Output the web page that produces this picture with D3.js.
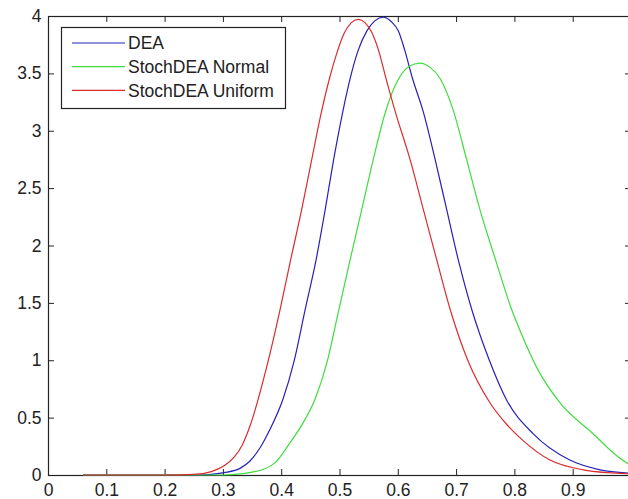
<!DOCTYPE html>
<html>
<head>
<meta charset="utf-8">
<script src="https://cdn.jsdelivr.net/npm/d3@7"></script>
<style>
	html, body { margin: 0; padding: 0; background: #fff; overflow: hidden; }
	svg text { font-family: "Liberation Sans", Arial, sans-serif; fill: #222; }
</style>
</head>
<body>
<svg id="chart"></svg>
<script>
const WIDTH = 628,
	HEIGHT = 499,
	FONT_SIZE = 17.5;

// data: [x, density]
const deaPoints = [
	[0.06, 0], [0.25, 0], [0.28, 0.005], [0.302, 0.02], [0.33, 0.06], [0.346, 0.12],
	[0.364, 0.24], [0.38, 0.39], [0.403, 0.66], [0.422, 0.99], [0.441, 1.44], [0.46, 1.88],
	[0.475, 2.30], [0.49, 2.75], [0.505, 3.15], [0.518, 3.45], [0.532, 3.70], [0.547, 3.87],
	[0.561, 3.96], [0.575, 3.99], [0.589, 3.95], [0.601, 3.87], [0.612, 3.70], [0.625, 3.46],
	[0.644, 3.16], [0.664, 2.75], [0.684, 2.31], [0.704, 1.87], [0.727, 1.44], [0.757, 1.0],
	[0.787, 0.65], [0.832, 0.36], [0.895, 0.13], [0.947, 0.045], [1.0, 0.015]
];
const normalPoints = [
	[0.06, 0], [0.3, 0], [0.33, 0.01], [0.35, 0.025], [0.37, 0.05], [0.39, 0.11],
	[0.415, 0.28], [0.437, 0.45], [0.458, 0.66], [0.478, 0.97], [0.498, 1.42], [0.518, 1.87],
	[0.538, 2.31], [0.558, 2.75], [0.578, 3.15], [0.6, 3.44], [0.619, 3.56], [0.638, 3.59],
	[0.656, 3.55], [0.672, 3.46], [0.695, 3.18], [0.718, 2.75], [0.741, 2.31], [0.768, 1.87],
	[0.794, 1.46], [0.818, 1.16], [0.838, 0.94], [0.878, 0.63], [0.935, 0.36], [0.975, 0.17],
	[1.0, 0.08]
];
const uniformPoints = [
	[0.06, 0], [0.2, 0], [0.25, 0.005], [0.28, 0.03], [0.302, 0.08], [0.32, 0.16],
	[0.333, 0.26], [0.346, 0.42], [0.375, 0.94], [0.398, 1.44], [0.416, 1.87], [0.435, 2.31],
	[0.452, 2.74], [0.468, 3.14], [0.482, 3.44], [0.495, 3.67], [0.508, 3.85], [0.52, 3.94],
	[0.532, 3.97], [0.544, 3.94], [0.555, 3.86], [0.567, 3.70], [0.579, 3.47], [0.596, 3.16],
	[0.621, 2.75], [0.644, 2.31], [0.667, 1.87], [0.690, 1.44], [0.72, 1.0], [0.758, 0.63],
	[0.787, 0.44], [0.815, 0.30], [0.861, 0.13], [0.918, 0.045], [0.96, 0.02], [1.0, 0.01]
];

const seriesNames = ['DEA', 'StochDEA Normal', 'StochDEA Uniform'],
	seriesColors = ['#2323b8', '#3fdc3f', '#dc2c2c'];

// the tick at 1 sits on the right edge, outside the window, so it has no visible label
const xTicks = [0, 0.1, 0.2, 0.3, 0.4, 0.5, 0.6, 0.7, 0.8, 0.9, 1],
	xTickLabels = ['0', '0.1', '0.2', '0.3', '0.4', '0.5', '0.6', '0.7', '0.8', '0.9', ''],
	yTicks = [0, 0.5, 1, 1.5, 2, 2.5, 3, 3.5, 4],
	yTickLabels = ['0', '0.5', '1', '1.5', '2', '2.5', '3', '3.5', '4'];

// plot box (right edge falls just outside the window, as in the picture)
const plotLeft = 48, plotRight = 631, plotTop = 16, plotBottom = 475;

const x = d3.scaleLinear().domain([0, 1]).range([plotLeft, plotRight]),
	y = d3.scaleLinear().domain([0, 4]).range([plotBottom, plotTop]);

const svg = d3.select('svg#chart')
	.attr('width', WIDTH)
	.attr('height', HEIGHT)
	.style('font-size', FONT_SIZE + 'px');

const fmt = (labels, ticks) => d => labels[ticks.indexOf(d)];

function styleAxis(g) {
	g.select('.domain').remove();
	g.selectAll('.tick line').attr('stroke', '#222');
	g.selectAll('.tick text')
		.style('font-size', FONT_SIZE + 'px')
		.attr('fill', '#222')
		.attr('font-family', '"Liberation Sans", Arial, sans-serif');
}

// ticks point inward on all four sides
svg.append('g')
	.attr('transform', `translate(0,${plotBottom})`)
	.call(d3.axisBottom(x).tickValues(xTicks).tickFormat(fmt(xTickLabels, xTicks)).tickSize(-6).tickPadding(8.5))
	.call(styleAxis);
svg.append('g')
	.attr('transform', `translate(0,${plotTop})`)
	.call(d3.axisTop(x).tickValues(xTicks).tickFormat('').tickSize(-6))
	.call(styleAxis);
svg.append('g')
	.attr('transform', `translate(${plotLeft},0)`)
	.call(d3.axisLeft(y).tickValues(yTicks).tickFormat(fmt(yTickLabels, yTicks)).tickSize(-6).tickPadding(6.5))
	.call(styleAxis);
svg.append('g')
	.attr('transform', `translate(${plotRight},0)`)
	.call(d3.axisRight(y).tickValues(yTicks).tickFormat('').tickSize(-6))
	.call(styleAxis);

svg.append('rect')
	.attr('x', plotLeft + 0.5)
	.attr('y', plotTop + 0.5)
	.attr('width', plotRight - plotLeft)
	.attr('height', plotBottom - plotTop)
	.attr('fill', 'none')
	.attr('stroke', '#222')
	.attr('stroke-width', 1.2);

// curves
const line = d3.line()
	.x(d => x(d[0]))
	.y(d => y(d[1]))
	.curve(d3.curveMonotoneX);

const curvesG = svg.append('g');
[deaPoints, normalPoints, uniformPoints].forEach((pts, i) => {
	curvesG.append('path')
		.datum(pts)
		.attr('d', line)
		.attr('fill', 'none')
		.attr('stroke', seriesColors[i])
		.attr('stroke-width', 1.2)
		.attr('stroke-linejoin', 'round');
});

// legend
const legendG = svg.append('g');
legendG.append('rect')
	.attr('x', 61.5)
	.attr('y', 27.5)
	.attr('width', 224)
	.attr('height', 81)
	.attr('fill', '#fff')
	.attr('stroke', '#222')
	.attr('stroke-width', 1.2);

seriesNames.forEach((name, i) => {
	const rowY = 43 + i * 23.7;
	legendG.append('line')
		.attr('x1', 72)
		.attr('x2', 125)
		.attr('y1', rowY)
		.attr('y2', rowY)
		.attr('stroke', seriesColors[i])
		.attr('stroke-width', 1.2);
	legendG.append('text')
		.attr('x', 128)
		.attr('y', rowY)
		.attr('dy', '0.35em')
		.text(name);
});
</script>
</body>
</html>
